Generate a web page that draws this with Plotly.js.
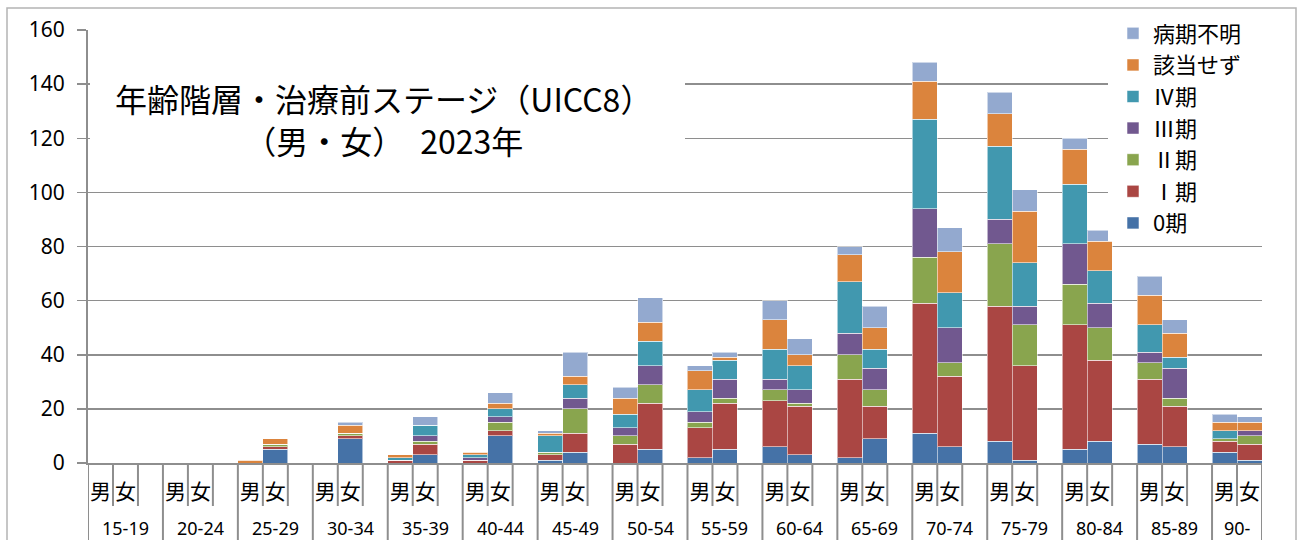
<!DOCTYPE html>
<html>
<head>
<meta charset="utf-8">
<script src="https://cdn.plot.ly/plotly-3.0.1.min.js"></script>
<style>
  html, body { margin: 0; padding: 0; background: #fff; }
  #chart { width: 1298px; height: 540px; }
</style>
</head>
<body>
<div id="chart"></div>
<script>
// ---- Data ----
const ages = ['15-19','20-24','25-29','30-34','35-39','40-44','45-49','50-54','55-59','60-64','65-69','70-74','75-79','80-84','85-89','90-'];
const sexLabels = ['男', '女'];

const stageNames  = ['0期', 'Ⅰ期', 'Ⅱ期', 'Ⅲ期', 'Ⅳ期', '該当せず', '病期不明'];
const stageColors = ['#4572A7', '#AA4643', '#89A54E', '#71588F', '#4198AF', '#DB843D', '#93A9CF'];

// male values per age group
const male0   = [0,0,0,0,0,0,1,0,2,6,2,11,8,5,7,4];
const male1   = [0,0,0,0,1,1,2,7,11,17,29,48,50,46,24,4];
const male2   = [0,0,0,0,0,0,1,3,2,4,9,17,23,15,6,1];
const male3   = [0,0,0,0,0,1,0,3,4,4,8,18,9,15,4,0];
const male4   = [0,0,0,0,1,1,6,5,8,11,19,33,27,22,10,3];
const maleNA  = [0,0,1,0,1,1,1,6,7,11,10,14,12,13,11,3];
const maleUnk = [0,0,0,0,0,0,1,4,2,7,3,7,8,4,7,3];

// female values per age group
const female0   = [0,0,5,9,3,10,4,5,5,3,9,6,1,8,6,1];
const female1   = [0,0,1,1,4,2,7,17,17,18,12,26,35,30,15,6];
const female2   = [0,0,1,1,1,3,9,7,2,1,6,5,15,12,3,3];
const female3   = [0,0,0,0,2,2,4,7,7,5,8,13,7,9,11,2];
const female4   = [0,0,0,0,4,3,5,9,7,9,7,13,16,12,4,0];
const femaleNA  = [0,0,2,3,0,2,3,7,1,4,8,15,19,11,9,3];
const femaleUnk = [0,0,0,1,3,4,9,9,2,6,8,9,8,4,5,2];

const maleSeries   = [male0, male1, male2, male3, male4, maleNA, maleUnk];
const femaleSeries = [female0, female1, female2, female3, female4, femaleNA, femaleUnk];

const titleText = '年齢階層・治療前ステージ（UICC8）<br>（男・女）　2023年';

// ---- Build category slots: 男, 女, (blank) per age group ----
const slots = [];
const groupStart = [];
const groupEnd = [];
ages.forEach((a, gi) => {
  groupStart.push(slots.length);
  slots.push(a + '|男');
  slots.push(a + '|女');
  if (gi < ages.length - 1) slots.push(a + '|');
  groupEnd.push(slots.length - 1);
});

const tickvals = [], ticktext = [];
ages.forEach(a => {
  tickvals.push(a + '|男'); ticktext.push(sexLabels[0]);
  tickvals.push(a + '|女'); ticktext.push(sexLabels[1]);
});

const traces = stageNames.map((name, si) => {
  const y = [];
  ages.forEach((a, gi) => {
    y.push(maleSeries[si][gi]);
    y.push(femaleSeries[si][gi]);
    if (gi < ages.length - 1) y.push(null);
  });
  return {
    type: 'bar',
    name: name,
    x: slots,
    y: y,
    marker: { color: stageColors[si], line: { color: 'rgba(255,255,255,0.55)', width: 1 } },
    hoverinfo: 'skip'
  };
});

// ---- Geometry helpers (pixel -> paper) ----
const L = 88, R = 36, T = 30, B = 77, W = 1298, H = 540;
const pw = W - L - R, ph = H - T - B;
const px = v => (v - L) / pw;
const py = v => (H - B - v) / ph;

const CJK = '"Noto Sans CJK JP", "Noto Sans", sans-serif';
const LAT = '"Noto Sans", "Open Sans", sans-serif';
const GRAY = '#8e8e8e';

const shapes = [];
// separator lines below the x axis
for (let k = 0; k <= slots.length; k++) {
  const isGroup = groupStart.includes(k) || k === slots.length;
  shapes.push({
    type: 'line', xref: 'x', yref: 'paper',
    x0: k - 0.5, x1: k - 0.5,
    y0: 0, y1: isGroup ? py(560) : py(506),
    line: { color: GRAY, width: 2 }, layer: 'above'
  });
}
// white box behind the title (hides gridlines like the original)
shapes.push({ type: 'rect', xref: 'paper', yref: 'paper',
  x0: px(90), x1: px(685), y0: py(178), y1: py(36),
  fillcolor: '#ffffff', line: { width: 0 }, layer: 'above' });
// white legend box
shapes.push({ type: 'rect', xref: 'paper', yref: 'paper',
  x0: px(1108), x1: px(1266), y0: py(241), y1: py(20),
  fillcolor: '#ffffff', line: { width: 0 }, layer: 'above' });
// outer chart frame
shapes.push({ type: 'rect', xref: 'paper', yref: 'paper',
  x0: px(7), x1: px(1296), y0: py(600), y1: py(8),
  fillcolor: 'rgba(0,0,0,0)', line: { color: '#b4b4b4', width: 1.5 }, layer: 'above' });

const annotations = [{
  xref: 'paper', yref: 'paper', x: px(384), y: py(119),
  xanchor: 'center', yanchor: 'middle', align: 'center', showarrow: false,
  text: titleText, font: { family: CJK, size: 32, color: '#000' }
}];
ages.forEach((a, gi) => {
  annotations.push({
    xref: 'x', yref: 'paper', x: (groupStart[gi] + groupEnd[gi]) / 2, y: py(528),
    xanchor: 'center', yanchor: 'middle', showarrow: false,
    text: a, font: { family: LAT, size: 18, color: '#000' }
  });
});

const layout = {
  width: W, height: H,
  margin: { l: L, r: R, t: T, b: B, pad: 0 },
  paper_bgcolor: '#ffffff', plot_bgcolor: '#ffffff',
  barmode: 'stack', bargap: 0,
  showlegend: true,
  legend: {
    x: px(1113), y: py(12.5), xanchor: 'left', yanchor: 'top',
    bgcolor: 'rgba(0,0,0,0)', traceorder: 'reversed',
    font: { family: CJK, size: 22, color: '#000' },
    itemclick: false, itemdoubleclick: false
  },
  xaxis: {
    type: 'category', categoryorder: 'array', categoryarray: slots,
    range: [-0.5, slots.length - 0.5],
    tickvals: tickvals, ticktext: ticktext, ticks: '',
    tickfont: { family: CJK, size: 21, color: '#000' },
    ticklabelstandoff: 9,
    showline: true, linecolor: GRAY, linewidth: 2,
    showgrid: false, zeroline: false, fixedrange: true
  },
  yaxis: {
    range: [0, 160], tick0: 0, dtick: 20,
    showgrid: true, gridcolor: GRAY, gridwidth: 1.5,
    ticks: 'outside', ticklen: 9, tickwidth: 1.5, tickcolor: GRAY,
    showline: true, linecolor: GRAY, linewidth: 2,
    zeroline: false,
    tickfont: { family: LAT, size: 21, color: '#000' },
    ticklabelstandoff: 8, fixedrange: true
  },
  shapes: shapes,
  annotations: annotations
};

Plotly.newPlot('chart', traces, layout, { displayModeBar: false, staticPlot: true });
</script>
</body>
</html>
